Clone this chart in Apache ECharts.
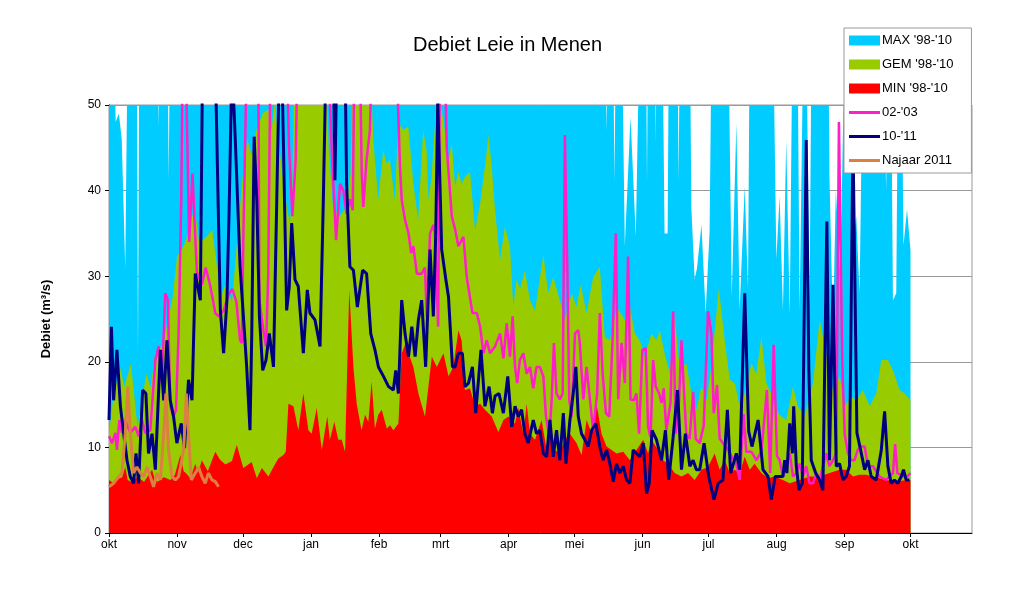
<!DOCTYPE html>
<html>
<head>
<meta charset="utf-8">
<title>Debiet Leie in Menen</title>
<script src="https://cdn.jsdelivr.net/npm/echarts@6/dist/echarts.min.js"></script>
<style>
  html, body { margin: 0; padding: 0; background: #fff; }
  #chart { width: 1020px; height: 608px; }
</style>
</head>
<body>
<div id="chart"></div>
<script>
// day 0 = 1 oktober; month ticks on the first day of each month
const monthDays = [0, 31, 61, 92, 123, 151, 182, 212, 243, 273, 304, 335, 365];
const monthLabels = ['okt', 'nov', 'dec', 'jan', 'feb', 'mrt', 'apr', 'mei', 'jun', 'jul', 'aug', 'sep', 'okt'];
const yTicks = [0, 10, 20, 30, 40, 50];

// values above 50 are off the chart (clipped), read as 55-60
const maxFlow = [[0,60],[2.6,60],[3,48],[4.5,49],[5.8,46],[7.4,31],[8.6,60],[12.6,60],[13.2,20.6],[13.8,60],[22,60],[22.6,47.5],[23.2,60],[26.6,60],[27.2,41.2],[27.8,60],
  [225.8,60],[226.5,47],[227.2,60],[229.5,60],[230.2,41],[230.9,60],[233.5,60],[234.9,33.5],[237.5,48.6],[239.9,34.6],[241.7,60],
  [244.5,60],[245,40.8],[245.5,60],[248.6,60],[249,45.5],[249.4,60],[252,60],[253,35],[254.4,35],[255,60],[258.8,60],[259.4,41],[260,60],
  [264.5,60],[265.2,38],[266.7,29.6],[267.8,31],[269.8,36],[271.7,25.7],[273.5,35.2],[274.5,60],[282,60],[283.6,27.6],[285.7,47.9],
  [287.2,26.1],[289.5,40.5],[291,28.5],[291.8,60],[302.4,60],[303.9,32],[305.4,39.3],[306.9,26],[308.4,45.9],[310,25.5],[311.3,60],
  [313.5,60],[314.5,26],[316.3,60],[317.5,60],[319,27],[320,60],[327.5,60],[328.1,41.4],[329.7,24],[331,40],[333,30],[335.2,60],
  [337.5,60],[338.5,33],[340.3,37],[341.8,28],[343.5,60],[352.5,60],[353.9,40],[355,60],[356,60],[357,27.2],[358.5,28],[359.5,60],
  [360.8,60],[361.8,33.6],[363.4,37.8],[365,33]];

const gemFlow = [[0,11.6],[2,15.9],[5,19.4],[7,17.1],[10,19.8],[13,12.4],[15,15.5],[17,18.6],[19,17],[21,21],[24,21.8],[26,23.7],
  [29,27.6],[31,32.3],[34,33.5],[36,35],[39,38.1],[41,34],[44,34.5],[47,35.4],[51,27.6],[53,29],[56,27],[59,36],[61,42],[63,46],
  [65,44],[67,47],[70,49],[72.6,49.5],[74,47],[75.5,50.5],[77,46],[79,42],[81,38],[82.4,36.2],[83.5,40],[84.5,55],[99,55],[100,45],
  [102,38],[105,37],[108,38],[110,42],[111,55],[119,55],[120.4,45.9],[122.6,38.9],[124.9,44.7],[126.4,43.2],[127.9,43.6],[130.2,38.9],
  [131.7,47.9],[134,47.1],[136.3,47.5],[138.6,40.8],[140.8,36.6],[143.1,47.1],[144.6,44.7],[145.5,38.9],[146.9,41.6],[149.2,50.5],
  [150.5,50.5],[152.3,48.2],[154.6,43.6],[156.1,45.5],[157.6,40.5],[159.1,42.2],[160.6,40.8],[162.1,41.6],[164.4,42.2],[166.7,35.4],
  [169,38.5],[171.2,42.8],[172.8,46.5],[174.3,42.8],[175.8,37.7],[178.1,31.9],[180.3,35.8],[182.6,33.5],[184.1,26.4],[185.6,29.6],
  [187.2,28.5],[189.4,30.7],[191.7,27.2],[194,26],[197.8,32.5],[200,28],[202.3,29.9],[205.3,27.2],[207.6,24.9],[210.7,28],[212.9,26.4],
  [214.8,29],[217.5,25.7],[220.5,29.9],[223.5,31.1],[225.8,22.9],[228.1,22.5],[231.1,26.4],[234.9,24.9],[237.2,26.4],[239.5,23.3],
  [241.7,22.5],[244,20.6],[247,23.3],[249.3,22.5],[250.8,23.7],[253.1,20.9],[255.4,18.6],[257.6,25.3],[259.9,19.2],[263,19.8],
  [265.2,16.3],[267.5,14.4],[269.8,17.1],[272.1,15.5],[274.3,19.4],[277.7,28.6],[280.4,22.5],[282.7,17.9],[285,17.5],[287.2,14.8],
  [289.5,16.3],[292.5,19.8],[294.8,18.6],[297.1,22.9],[299.4,17.5],[301.6,16.3],[304.7,14],[308.4,13.2],[311.5,17.1],[313.7,14.8],
  [316.8,13.6],[320.6,17.5],[323.6,24.9],[326.6,21],[329.7,16.7],[332.7,18.3],[335,14.8],[338,15.9],[340.3,15.5],[343.3,16.7],
  [346.4,14.8],[349.4,16.3],[351.7,20.2],[354.7,20.2],[357,19],[360,16.7],[362.3,16.3],[365,15.5]];

const minFlow = [[0,6.2],[2,5.8],[4,6.3],[6,6.5],[7.4,7.7],[8.5,6.2],[10,6],[13,6.5],[16,6],[19.6,7.4],[21,6.2],[22,6],[25,6.5],
  [28,6.2],[30,6.8],[32.5,9.1],[34,7.2],[35,7],[37,6.4],[39.3,8.1],[40.5,7],[42.3,8.5],[45,7.2],[48.4,9.5],[50.5,8.6],[53,8],
  [56,8.4],[58.2,10.3],[59.7,8.9],[61.2,7.6],[65,8.3],[67.3,6.4],[69.6,7.6],[72.6,6.6],[74.9,7.7],[77.1,8.7],[79.4,9.1],[80.5,9.5],
  [81.7,15.1],[84,14.8],[86.2,12],[88.5,16.3],[90.8,12],[92.3,11.6],[94.6,14.6],[96.9,9.7],[99.4,13.6],[100.6,10.9],[102.6,13],
  [104.4,10.9],[106,10.9],[107.5,9.5],[109.4,28.4],[111.3,19.4],[112.8,15.1],[115,12],[116.6,13.8],[118.1,13],[119.6,17.7],
  [121.1,12.2],[122.6,13.8],[124.2,14.4],[126.5,12.2],[128,12.6],[129.5,12],[131.8,12.8],[133.3,21],[135.6,22.5],[136.4,21],
  [138.6,19.4],[140.9,16.3],[143.9,13.6],[147,20.6],[149.3,19.4],[152.3,21],[154.6,18.3],[156.8,19.4],[159.1,23.7],[160.6,22.5],
  [162.1,16.7],[164.4,16.9],[166.7,14.8],[169,15.1],[171.2,14.4],[174.3,13.6],[177.3,11.8],[179.6,13.2],[181.9,13.6],[184.9,12.8],
  [186.4,14.6],[188.7,11.6],[190.2,15.1],[191.7,11.6],[194,10.9],[197,13.2],[199.3,9.7],[200.8,13.2],[203.1,9.7],[205.3,9.3],
  [207.6,10.9],[209.9,11.6],[212.9,10.5],[215.2,9.1],[217.5,13.2],[219.8,11.6],[222,15.1],[224.3,11.6],[226.6,10.1],[228.9,9.7],
  [231.1,9.3],[234.2,9.5],[237.2,8.5],[240.2,9.7],[243.3,10.9],[245.5,9.3],[247,10.9],[250.1,9.7],[252.3,8.5],[254.6,8.1],[257.6,7],
  [260.7,6.6],[263.7,7],[266.7,6.2],[269.8,7.4],[272.8,7.7],[275.8,9.3],[278.1,7.4],[280.4,8.5],[282.7,7],[284.9,7.4],[287.2,7],
  [289.5,8.9],[291.8,7.4],[294,8.1],[297.1,7],[300.1,6.4],[303.1,6.6],[306.9,6.2],[310,5.8],[314.5,6.2],[319,6.6],[323.6,6.6],
  [328.1,7],[332.7,7.4],[335.7,7.4],[338.8,6.6],[341.8,6.8],[344.8,6.8],[347.9,6.6],[350.9,6.4],[353.9,6.2],[358.5,6],[363,6.2],[365,6.2]];

const flow0203 = [[0,11.3],[1.4,10.5],[2.9,11.7],[3.6,9.7],[4.7,13.2],[5.9,11.7],[7.4,13.2],[9.7,11.7],[12,12.4],[13.5,11.3],
  [15,13.2],[16.5,11.7],[18.8,12],[21.1,20.2],[22.6,21.8],[24.1,17.5],[25.6,28],[26.8,27.2],[27.9,14.8],[29.4,13.6],[30.5,14.4],
  [31.7,23.3],[32.9,38.9],[33.5,55],[35,55],[36.5,34],[38,42],[40,30.5],[42.3,29],[44,31],[46,29],[48.4,25.7],[50,25.3],[52.2,26],
  [54.7,28],[56.2,28.5],[58,27],[59.7,22.5],[60.5,22.2],[61.2,35],[62.7,55],[68,55],[68.5,27.2],[70.3,23.7],[71.5,21.8],[72.5,30],
  [73.5,55],[81,55],[82,45],[83.5,37],[85,43.6],[85.8,55],[99.9,55],[101.4,45],[103.4,34.2],[105.2,40.8],[106.7,40],[108.2,37.3],
  [109.7,39],[111,37.7],[111.7,55],[114.3,55],[115.1,42],[115.8,38.1],[117.3,43.6],[118.8,47],[119.6,55],[131,55],[132.5,42.8],
  [133.3,38.9],[134.8,36.6],[136.4,35],[137.6,32.7],[138.6,33.5],[140.2,30.3],[142.4,30.3],[143.9,31],[144.7,25.3],[146.2,35],
  [147.7,36],[148.4,35],[149.9,24.1],[150.7,55],[153,55],[153.8,45],[156.1,37],[157.6,35.5],[159.1,33.5],[161.4,34.6],[162.9,29.9],
  [164.4,27.5],[165.5,25.7],[167.5,25.7],[169,24.1],[170.5,21],[172,22.5],[173.5,21],[175.8,21.8],[178.1,23.3],[179.6,20.4],
  [181.1,24.5],[182.6,20.6],[183.8,25.3],[184.9,19.4],[185.9,17.5],[187.1,20.2],[188.7,21],[190.2,18.6],[191.7,19.4],[193.2,16.9],
  [194.7,19.4],[196.2,19.4],[197.8,18.3],[199,13.6],[200.5,11.3],[201.6,15.6],[202.6,22.2],[203.8,16.3],[205.3,15.6],[206.6,16.3],
  [207.6,46.5],[208.7,31],[209.6,15.6],[210.7,13.6],[212.2,23.3],[213.7,23.7],[214.4,22.2],[216,15.6],[217.5,19.4],[219,15.6],
  [220.5,12],[222.3,16.3],[223.5,25.7],[224.8,18.6],[226.3,14],[227.8,13.6],[229.3,22.5],[230.8,35],[231.9,15.6],[233.4,22.2],
  [234.9,17.5],[236.4,32.3],[237.5,15.6],[239,15.5],[240.2,16.3],[241.4,11.6],[242.9,21.4],[244.4,21.6],[245.5,12.4],[246.6,11.2],
  [247.8,20.2],[249,17.1],[250.5,16.3],[251.6,15.2],[252.6,16.9],[253.8,12],[255.7,15.2],[256.9,25.9],[258.1,11.6],[259.6,15.5],
  [260.7,22.5],[261.7,17.1],[262.9,11.6],[264.4,11],[266,16.5],[267.2,11],[269,10.5],[270.8,12.5],[272.8,25.9],[274.3,23.3],
  [275.4,14],[276.9,17.3],[278.1,11],[281.1,10],[283.4,9],[285.7,8],[287.2,6.2],[289,13.9],[290.2,9.5],[292.5,9.5],[294.8,8.5],
  [297.1,9.5],[299.6,16.7],[301.1,7],[302.7,22],[304.2,9],[305.4,8.5],[306.9,6.6],[308.4,7.8],[310,9.3],[311.5,6.6],[313,7],
  [314.5,8.1],[316,6.6],[317.5,7.8],[319,5.8],[320.6,5.8],[322.1,7],[323.6,6.2],[325.1,7.8],[326.6,9.3],[328.1,7.8],[329.7,8.5],
  [331.2,9.3],[332.4,48],[333.9,20],[335,11.6],[336.5,9.3],[338,8.5],[339.5,8.5],[341,9.7],[342.6,10.1],[344.1,10.1],[345.6,7.8],
  [347.9,7.8],[350.9,6.6],[353.9,6.2],[357,7],[358,10.4],[359,7],[362,6.6],[363.5,6.6],[365,7]];

const flow1011 = [[0,13.2],[1.1,24.1],[2.1,15.5],[3.6,21.4],[5.2,14.8],[6.7,11.6],[8.2,8.5],[9.7,6.6],[11.2,5.8],[12.3,9.3],
  [13.5,5.8],[15.3,16.7],[16.8,16.3],[18,9.3],[19.6,11.6],[21.1,7.4],[23.4,21.4],[24.9,15.5],[26.4,22.5],[27.9,15.5],[29.4,13.6],
  [30.9,10.5],[32.9,12.8],[34.4,9.9],[36.2,17.9],[37.8,15.5],[39.3,30.3],[41.6,27.2],[42.6,55],[48.4,55],[50.7,26],[52.2,21],
  [53.7,27.2],[54.7,37.7],[56,55],[57.5,46],[59.7,31.1],[61.2,25.3],[62.7,19.4],[64.2,12],[65,23],[66.1,46.3],[67.3,38.9],[68.5,25.3],
  [70,19],[71.5,20.2],[73,23.3],[74.9,19.4],[76.4,38.9],[77.6,55],[78.7,55],[80.9,26],[82.1,28.8],[83.2,36.2],[84.7,29.6],[86.2,28.8],
  [88.5,21],[90.3,28.4],[91.5,25.7],[93.8,24.9],[96.1,21.8],[97.6,38.9],[98.8,55],[102.2,55],[102.9,41.2],[103.7,55],[107.5,55],
  [108.2,40.8],[109.7,31.1],[111.3,30.7],[113.1,26.4],[115.5,30.7],[117.3,30.3],[119.2,23.3],[121.1,21.4],[122.7,19.4],[125,18.3],
  [127.3,17.1],[129.5,16.7],[130.6,19],[131.8,16.3],[133.3,27.2],[134.8,23.3],[136.4,20.6],[137.9,24.1],[139.4,20.6],[140.9,24.9],
  [142.4,27.2],[144.2,19.4],[146.2,33.1],[147.7,25.3],[148.8,35],[149.7,50.5],[151.5,33.1],[153.4,29.6],[154.6,27.6],[156.4,19.4],
  [157.6,19.4],[159.1,21],[160.9,21],[162.1,17.1],[163.7,17.5],[165.5,19.4],[167,14],[169.4,21.4],[171.2,14.8],[173.1,17.1],
  [174.6,14],[175.8,16],[177.6,16.3],[179.6,14],[181.6,18.3],[183.4,12.4],[184.9,14.8],[186.4,13.6],[187.9,14.4],[189.4,11.6],
  [190.9,10.5],[193.2,13.2],[194.7,11.6],[196.2,12],[197.8,9.3],[199.3,8.9],[200.8,13.2],[202.3,8.9],[203.8,12],[205.3,8.5],
  [206.9,14],[208.1,8.1],[209.9,13.2],[211.4,16.3],[212.6,19.4],[213.7,13.6],[215.2,11.6],[216.7,10.9],[218.2,10.1],[219.8,12],
  [221.7,12.8],[223.5,10.1],[225,8.5],[226.6,9.7],[228.1,8.1],[229.6,6],[231.1,8.1],[232.6,7],[234.2,7.8],[235.7,6.2],[237.2,5.8],
  [238.7,9.7],[240.2,9.3],[241.7,8.9],[243.3,10.5],[244.8,4.6],[246,5.8],[247.3,12],[249.3,10.9],[251.6,8.5],[253.4,12],[254.9,6.2],
  [256.9,11.2],[258.9,16.7],[260.7,7.4],[262.5,11.6],[264.5,7.8],[266,8.5],[267.5,7.4],[269,7.4],[271,10.5],[273.1,6.6],[275.5,3.9],
  [277.4,5.8],[279.6,6.2],[281.6,14.4],[283.1,7],[285.7,9.3],[287.2,7.4],[289.5,28],[291.3,11.9],[292.8,10.1],[295.6,13.2],
  [297.8,7.4],[300.1,6.6],[301.6,3.9],[303.4,6.6],[305.4,6.6],[306.9,6.6],[307.7,8.5],[308.7,7],[310,12.8],[311.2,9.3],[311.8,14.8],
  [313,7.8],[314.2,5],[315.7,5.8],[317.5,45.9],[318.7,19],[319.8,8.5],[321.8,7],[323.6,6.2],[325.1,5],[326.9,36.4],[328.1,8.5],
  [329.7,29],[331.2,7.8],[332.7,8.1],[334.2,6.2],[335.7,6.6],[337.2,7.8],[338.8,46],[340.6,11.7],[342.6,9.3],[344.1,7.4],[345.6,8.5],
  [347.1,6.6],[349.4,6.2],[351.7,9.7],[353.2,14.2],[354.7,7.8],[356.2,5.8],[357.7,6.2],[359.2,5.8],[360.8,6.6],[361.8,7.4],[363,6.2],
  [364.5,6.2]];

const najaar2011 = [[0,5.4],[2.1,5.8],[4.4,6.6],[5.9,7],[7.4,11.6],[8.6,17.1],[9.7,11.6],[11.2,7],[12.7,7.7],[14.3,7],[15.8,6.6],
  [17.3,7.7],[18.8,6.6],[20.3,5.4],[21.8,7],[23.4,6.2],[24.9,11.6],[25.9,16.3],[27.1,9.7],[28.7,6.6],[30.2,6.2],[31.7,6.6],[34,9.7],
  [35.2,16.3],[36.2,11.6],[37.5,6.2],[39.3,7],[40.8,7.7],[42.3,6.6],[43.8,5.8],[45.3,7],[46.9,6.2],[48.4,6],[49.9,5.4]];

const FONT = '"Liberation Sans", Arial, sans-serif';
const LINE_ICON = 'path://M0,0L31,0L31,3L0,3Z';

const areaSeries = (name, data, color) => ({
  name, type: 'line', data, symbol: 'none', clip: true,
  lineStyle: {width: 0, color},
  itemStyle: {color},
  areaStyle: {color, opacity: 1},
});
const lineSeries = (name, data, color, width) => ({
  name, type: 'line', data, symbol: 'none', showSymbol: false, clip: true,
  lineStyle: {width, color},
  itemStyle: {color},
});

const chart = echarts.init(document.getElementById('chart'), null, {renderer: 'canvas'});
chart.setOption({
  animation: false,
  backgroundColor: '#fff',
  title: {
    text: 'Debiet Leie in Menen',
    left: 408, top: 30,
    textStyle: {fontFamily: FONT, fontSize: 20, fontWeight: 'normal', color: '#000'},
  },
  legend: {
    orient: 'vertical',
    left: 844, top: 28,
    padding: [6, 18, 6, 5],
    itemGap: 11,
    itemWidth: 31, itemHeight: 10,
    symbolKeepAspect: true,
    backgroundColor: '#fff',
    borderColor: '#999', borderWidth: 1,
    textStyle: {fontFamily: FONT, fontSize: 13, color: '#000', padding: [0, 0, 0, -3]},
    data: [
      {name: "MAX '98-'10", icon: 'rect'},
      {name: "GEM '98-'10", icon: 'rect'},
      {name: "MIN '98-'10", icon: 'rect'},
      {name: "02-'03", icon: LINE_ICON},
      {name: "10-'11", icon: LINE_ICON},
      {name: 'Najaar 2011', icon: LINE_ICON},
    ],
  },
  grid: {left: 109, right: 48, top: 105, bottom: 75, show: true, borderColor: '#999', borderWidth: 1},
  xAxis: {
    type: 'value', min: 0, max: 393,
    axisLine: {lineStyle: {color: '#000', width: 1}},
    axisTick: {show: true, customValues: monthDays, length: 4, lineStyle: {color: '#000'}},
    axisLabel: {
      customValues: monthDays, margin: 6,
      fontFamily: FONT, fontSize: 12, color: '#000',
      formatter: v => monthLabels[monthDays.indexOf(v)] ?? '',
    },
    splitLine: {show: false},
  },
  yAxis: {
    type: 'value', min: yTicks[0], max: yTicks[yTicks.length - 1], interval: 10,
    name: 'Debiet (m³/s)', nameLocation: 'middle', nameGap: 56,
    nameTextStyle: {fontFamily: FONT, fontSize: 13, fontWeight: 'bold', color: '#000'},
    axisLine: {show: true, lineStyle: {color: '#000', width: 1}},
    axisTick: {show: true, length: 4, lineStyle: {color: '#000'}},
    axisLabel: {margin: 8, fontFamily: FONT, fontSize: 12, color: '#000'},
    splitLine: {show: true, lineStyle: {color: '#999', width: 1}},
  },
  series: [
    areaSeries("MAX '98-'10", maxFlow, '#00CCFF'),
    areaSeries("GEM '98-'10", gemFlow, '#99CC00'),
    areaSeries("MIN '98-'10", minFlow, '#FF0000'),
    lineSeries("02-'03", flow0203, '#FF1EC8', 2.5),
    lineSeries("10-'11", flow1011, '#000080', 3),
    lineSeries('Najaar 2011', najaar2011, '#DB8040', 3),
  ],
});
</script>
</body>
</html>
